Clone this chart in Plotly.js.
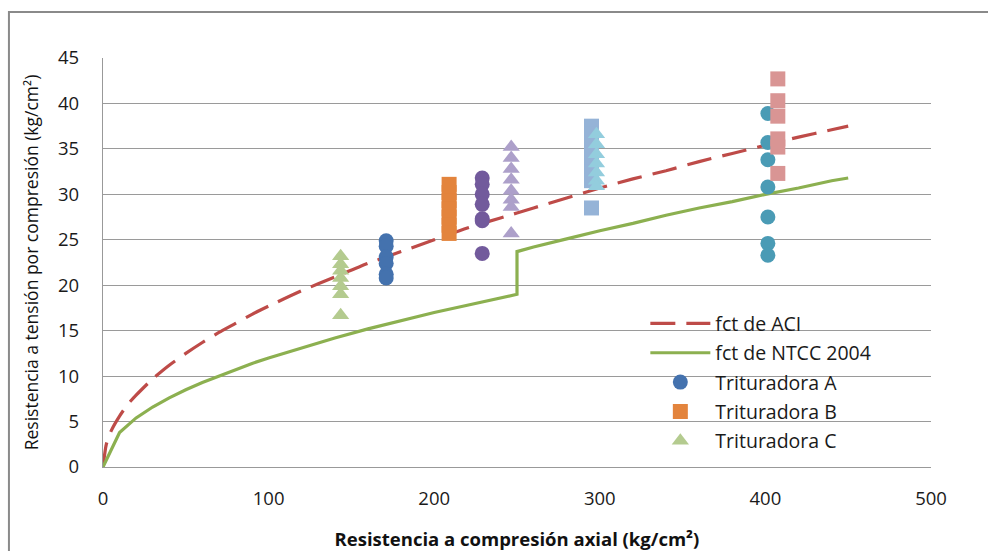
<!DOCTYPE html>
<html>
<head>
<meta charset="utf-8">
<script src="https://cdn.plot.ly/plotly-3.0.1.min.js"></script>
<style>
  html, body { margin: 0; padding: 0; background: #ffffff; }
  #chart { width: 988px; height: 551px; }
</style>
</head>
<body>
<div id="chart"></div>
<script>
// ---- Data ----
// fct de ACI (dashed red curve)
const aciX = [0, 2, 5, 10, 15, 20, 30, 40, 50, 60, 70, 80, 90, 100, 120, 140, 160, 180, 200, 220, 240, 260, 280, 300, 320, 340, 360, 380, 400, 420, 440, 450];
const aciY = [0, 2.5, 4.0, 5.6, 6.9, 7.9, 9.7, 11.2, 12.5, 13.7, 14.8, 15.8, 16.8, 17.7, 19.4, 20.9, 22.4, 23.7, 25.0, 26.3, 27.4, 28.5, 29.6, 30.7, 31.7, 32.6, 33.6, 34.5, 35.4, 36.3, 37.1, 37.5];

// fct de NTCC 2004 (solid green line, jump at 250)
const ntccX = [0, 10, 20, 30, 40, 50, 60, 70, 80, 90, 100, 120, 140, 160, 180, 200, 220, 240, 250, 250, 260, 280, 300, 320, 340, 360, 380, 400, 420, 440, 450];
const ntccY = [0, 3.8, 5.4, 6.6, 7.6, 8.5, 9.3, 10.0, 10.7, 11.4, 12.0, 13.1, 14.2, 15.2, 16.1, 17.0, 17.8, 18.6, 19.0, 23.7, 24.2, 25.1, 26.0, 26.8, 27.7, 28.5, 29.2, 30.0, 30.7, 31.5, 31.8];

// Trituradora A (circles)
const triA1X = [171, 171, 171, 171, 171, 171];
const triA1Y = [24.9, 24.3, 23.1, 22.4, 21.2, 20.8];
const triA2X = [229, 229, 229, 229, 229, 229, 229];
const triA2Y = [31.8, 31.1, 30.0, 28.9, 27.3, 27.1, 23.5];
const triA3X = [401.5, 401.5, 401.5, 401.5, 401.5, 401.5, 401.5];
const triA3Y = [38.9, 35.7, 33.8, 30.8, 27.5, 24.6, 23.3];

// Trituradora B (squares)
const triB1X = [209, 209, 209, 209, 209, 209, 209];
const triB1Y = [31.1, 30.2, 29.3, 28.4, 27.5, 26.6, 25.7];
const triB2X = [295, 295, 295, 295, 295, 295, 295, 295];
const triB2Y = [37.5, 36.6, 35.6, 34.6, 33.5, 32.5, 31.5, 28.5];
const triB3X = [407.5, 407.5, 407.5, 407.5, 407.5, 407.5];
const triB3Y = [42.7, 40.3, 38.6, 36.1, 35.2, 32.3];

// Trituradora C (triangles)
const triC1X = [143.5, 143.5, 143.5, 143.5, 143.5, 143.5, 143.5];
const triC1Y = [23.2, 22.3, 21.6, 20.8, 19.9, 19.0, 16.7];
const triC2X = [246.5, 246.5, 246.5, 246.5, 246.5, 246.5, 246.5, 246.5];
const triC2Y = [35.2, 34.0, 32.8, 31.6, 30.4, 29.4, 28.6, 25.7];
const triC3X = [298, 298, 298, 298, 298, 298, 298];
const triC3Y = [36.6, 35.5, 34.4, 33.4, 32.4, 31.5, 30.9];

// Tick values
const xTicks = [0, 100, 200, 300, 400, 500];
const yTicks = [0, 5, 10, 15, 20, 25, 30, 35, 40, 45];

// ---- Traces ----
function markerTrace(x, y, name, symbol, color, size, show, group) {
  return {
    type: 'scatter', mode: 'markers', x: x, y: y, name: name,
    showlegend: show, legendgroup: group,
    marker: { symbol: symbol, color: color, size: size, line: { width: 0 } },
    hoverinfo: 'x+y+name'
  };
}

const traces = [
  { type: 'scatter', mode: 'lines', x: aciX, y: aciY, name: 'fct de ACI', legendgroup: 'g1',
    line: { color: '#BE4B48', width: 3.2, dash: '25px,11px', shape: 'spline', smoothing: 0.6 } },
  { type: 'scatter', mode: 'lines', x: ntccX, y: ntccY, name: 'fct de NTCC 2004', legendgroup: 'g2',
    line: { color: '#8CB050', width: 3.2 } },
  markerTrace(triA1X, triA1Y, 'Trituradora A', 'circle', '#4472AE', 15, true, 'g3'),
  markerTrace(triB1X, triB1Y, 'Trituradora B', 'square', '#E3843D', 15, true, 'g4'),
  markerTrace(triC1X, triC1Y, 'Trituradora C', 'triangle-up', '#B4CB8F', 15, true, 'g5'),
  markerTrace(triA2X, triA2Y, 'Trituradora A', 'circle', '#725A9C', 15, false, 'g6'),
  markerTrace(triC2X, triC2Y, 'Trituradora C', 'triangle-up', '#ADA0CA', 15, false, 'g7'),
  markerTrace(triB2X, triB2Y, 'Trituradora B', 'square', '#95B3D7', 15, false, 'g8'),
  markerTrace(triC3X, triC3Y, 'Trituradora C', 'triangle-up', '#93CDDD', 15, false, 'g9'),
  markerTrace(triA3X, triA3Y, 'Trituradora A', 'circle', '#4A9BB5', 15, false, 'g10'),
  markerTrace(triB3X, triB3Y, 'Trituradora B', 'square', '#D99594', 15, false, 'g11')
];

const fontFam = '"Open Sans", "Noto Sans", sans-serif';

const layout = {
  width: 988, height: 551,
  margin: { l: 103, r: 57, t: 58, b: 84, pad: 0 },
  paper_bgcolor: '#ffffff', plot_bgcolor: '#ffffff',
  font: { family: fontFam, size: 18, color: '#1a1a1a' },
  showlegend: true,
  xaxis: {
    range: [0, 500], tickvals: xTicks, ticktext: xTicks.map(String),
    showgrid: false, zeroline: false, showline: true, linecolor: '#999999', linewidth: 1.2,
    ticks: '', ticklabelstandoff: 15,
    tickfont: { family: fontFam, size: 18.5, color: '#1a1a1a' },
    title: { text: 'Resistencia a compresión axial (kg/cm²)', standoff: 23,
      font: { family: fontFam, size: 18.5, color: '#111111', weight: 'bold' } }
  },
  yaxis: {
    range: [0, 45], tickvals: yTicks, ticktext: yTicks.map(String),
    showgrid: true, gridcolor: '#9a9a9a', gridwidth: 1.2,
    zeroline: false, showline: true, linecolor: '#999999', linewidth: 1.2,
    ticks: '', ticklabelstandoff: 19,
    tickfont: { family: fontFam, size: 18.5, color: '#1a1a1a' },
    title: { text: 'Resistencia a tensión por compresión (kg/cm²)', standoff: 14,
      font: { family: fontFam, size: 17.5, color: '#111111' } }
  },
  legend: {
    x: 0.655, y: 0.398, xanchor: 'left', yanchor: 'top',
    bgcolor: 'rgba(0,0,0,0)', borderwidth: 0,
    font: { family: fontFam, size: 19.5, color: '#1a1a1a' },
    traceorder: 'grouped', tracegroupgap: 1, itemwidth: 60
  },
  shapes: [
    { type: 'rect', xref: 'paper', yref: 'paper', x0: -0.1136, x1: 1.08, y0: -0.3, y1: 1.1125,
      line: { color: '#8a8a8a', width: 2 }, fillcolor: 'rgba(0,0,0,0)', layer: 'below' }
  ]
};

Plotly.newPlot('chart', traces, layout, { displayModeBar: false, staticPlot: true });
</script>
</body>
</html>
